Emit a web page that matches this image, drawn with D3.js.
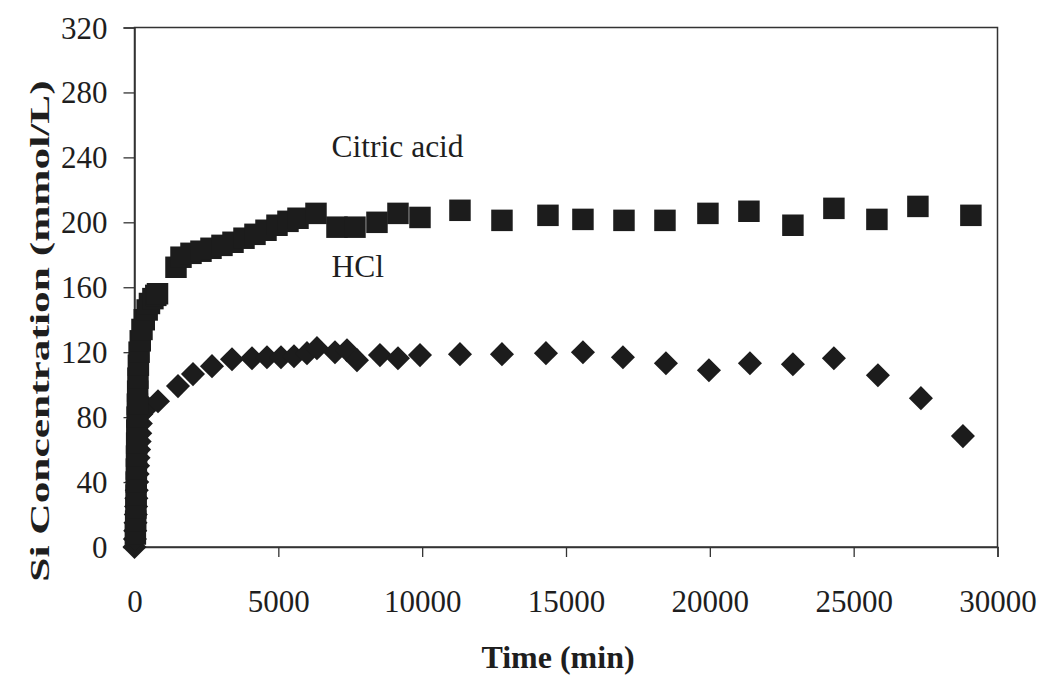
<!DOCTYPE html>
<html>
<head>
<meta charset="utf-8">
<script src="https://cdn.jsdelivr.net/npm/d3@7/dist/d3.min.js"></script>
<style>
  html, body { margin: 0; padding: 0; background: #ffffff; }
  svg { display: block; }
  text { font-family: "Liberation Serif", "Times New Roman", serif; fill: #1e1e1e; }
</style>
</head>
<body>
<svg id="chart" width="1042" height="675"></svg>
<script>
// Si concentration over time, leached with citric acid and with HCl
const citricTime = [30, 40, 50, 55, 60, 65, 70, 75, 80, 90, 100, 110, 120, 135, 160, 200, 260, 340, 440, 520, 640, 740, 800,
  1442, 1616, 1964, 2311, 2659, 3041, 3424, 3806, 4188, 4571, 4953, 5335, 5683, 6309, 7039, 7664, 8429, 9159, 9924,
  11314, 12774, 14373, 15589, 17015, 18440, 19934, 21359, 22888, 24313, 25808, 27233, 29075];
const citricSi = [8, 16, 24, 32, 40, 48, 56, 64, 72, 80, 88, 96, 104, 112, 120, 127, 134, 140, 146, 150, 153, 155, 156,
  172.3, 178.5, 180.9, 182.2, 184, 185.8, 187.7, 190.2, 192.6, 195.1, 198.2, 200.6, 202.5, 205.5, 197, 197, 200, 205.5, 203,
  207.4, 201.2, 204.3, 201.8, 201.2, 201.2, 205.5, 206.8, 198.2, 208.6, 201.8, 209.8, 204.3];

const hclTime = [0, 15, 25, 35, 45, 55, 65, 80, 95, 110, 125, 140, 160, 180, 200, 220, 240, 450,
  817, 1512, 2033, 2694, 3389, 4084, 4605, 5092, 5544, 5996, 6343, 6969, 7386, 7734, 8533, 9159, 9924,
  11314, 12774, 14303, 15589, 16979, 18474, 19969, 21394, 22888, 24313, 25843, 27338, 28798];
const hclSi = [0, 5, 10, 15, 20, 25, 30, 35, 40, 45, 50, 55, 60, 65, 70, 76, 82, 86,
  89.8, 99.1, 106.5, 111.4, 115.7, 116.3, 116.9, 116.9, 117.5, 119.4, 122.5, 120, 121.2, 115.1, 118.2, 116.3, 118.2,
  118.8, 118.8, 119.4, 120, 116.9, 113.2, 108.9, 113.2, 112.6, 116.3, 105.8, 91.7, 68.3];

const xTicks = [0, 5000, 10000, 15000, 20000, 25000, 30000];
const yTicks = [0, 40, 80, 120, 160, 200, 240, 280, 320];

const seriesLabels = [
  { text: "Citric acid", t: 6850, v: 240 },
  { text: "HCl", t: 6850, v: 166.5 }
];

const svg = d3.select("#chart");
const plot = { left: 134.5, right: 997.5, top: 27.5, bottom: 547 };

const x = d3.scaleLinear().domain([0, 30000]).range([plot.left, plot.right]);
const y = d3.scaleLinear().domain([0, 320]).range([plot.bottom, plot.top]);

const axisColor = "#333";

// plot frame
svg.append("rect")
  .attr("x", plot.left).attr("y", plot.top)
  .attr("width", plot.right - plot.left).attr("height", plot.bottom - plot.top)
  .attr("fill", "none").attr("stroke", axisColor).attr("stroke-width", 1.5);

// axes with outward ticks
const xAxis = svg.append("g")
  .attr("transform", `translate(0,${plot.bottom})`)
  .call(d3.axisBottom(x).tickValues(xTicks).tickSize(10).tickFormat(d3.format("d")));
const yAxis = svg.append("g")
  .attr("transform", `translate(${plot.left},0)`)
  .call(d3.axisLeft(y).tickValues(yTicks).tickSize(11).tickPadding(16).tickFormat(d3.format("d")));

[xAxis, yAxis].forEach(g => {
  g.attr("font-family", null);
  g.select(".domain").attr("stroke", axisColor).attr("stroke-width", 1.5);
  g.selectAll(".tick line").attr("stroke", axisColor).attr("stroke-width", 1.3);
  g.selectAll(".tick text").attr("font-size", 31).attr("fill", "#1e1e1e");
});
xAxis.selectAll(".tick text").attr("dy", 0).attr("y", 65);
yAxis.selectAll(".tick text").attr("dy", "0.34em");

// markers
const markColor = "#1c1c1c";
const squarePath = d3.symbol().type(d3.symbolSquare).size(462)();
const diamondPath = d3.symbol().type(d3.symbolSquare).size(290)();

svg.append("g").selectAll("path")
  .data(d3.zip(hclTime, hclSi))
  .join("path")
  .attr("d", diamondPath)
  .attr("fill", markColor)
  .attr("transform", d => `translate(${x(d[0])},${y(d[1])}) rotate(45)`);

svg.append("g").selectAll("path")
  .data(d3.zip(citricTime, citricSi))
  .join("path")
  .attr("d", squarePath)
  .attr("fill", markColor)
  .attr("transform", d => `translate(${x(d[0])},${y(d[1])})`);

// series labels
svg.append("g").selectAll("text")
  .data(seriesLabels)
  .join("text")
  .attr("x", d => x(d.t)).attr("y", d => y(d.v))
  .attr("font-size", 31.5)
  .text(d => d.text);

// axis titles
svg.append("text")
  .attr("x", 558).attr("y", 668)
  .attr("text-anchor", "middle")
  .attr("font-size", 32).attr("font-weight", "bold")
  .text("Time (min)");

svg.append("text")
  .attr("transform", "translate(49,331) rotate(-90) scale(1.55,1)")
  .attr("text-anchor", "middle")
  .attr("font-size", 28).attr("font-weight", "bold")
  .text("Si Concentration (mmol/L)");
</script>
</body>
</html>
